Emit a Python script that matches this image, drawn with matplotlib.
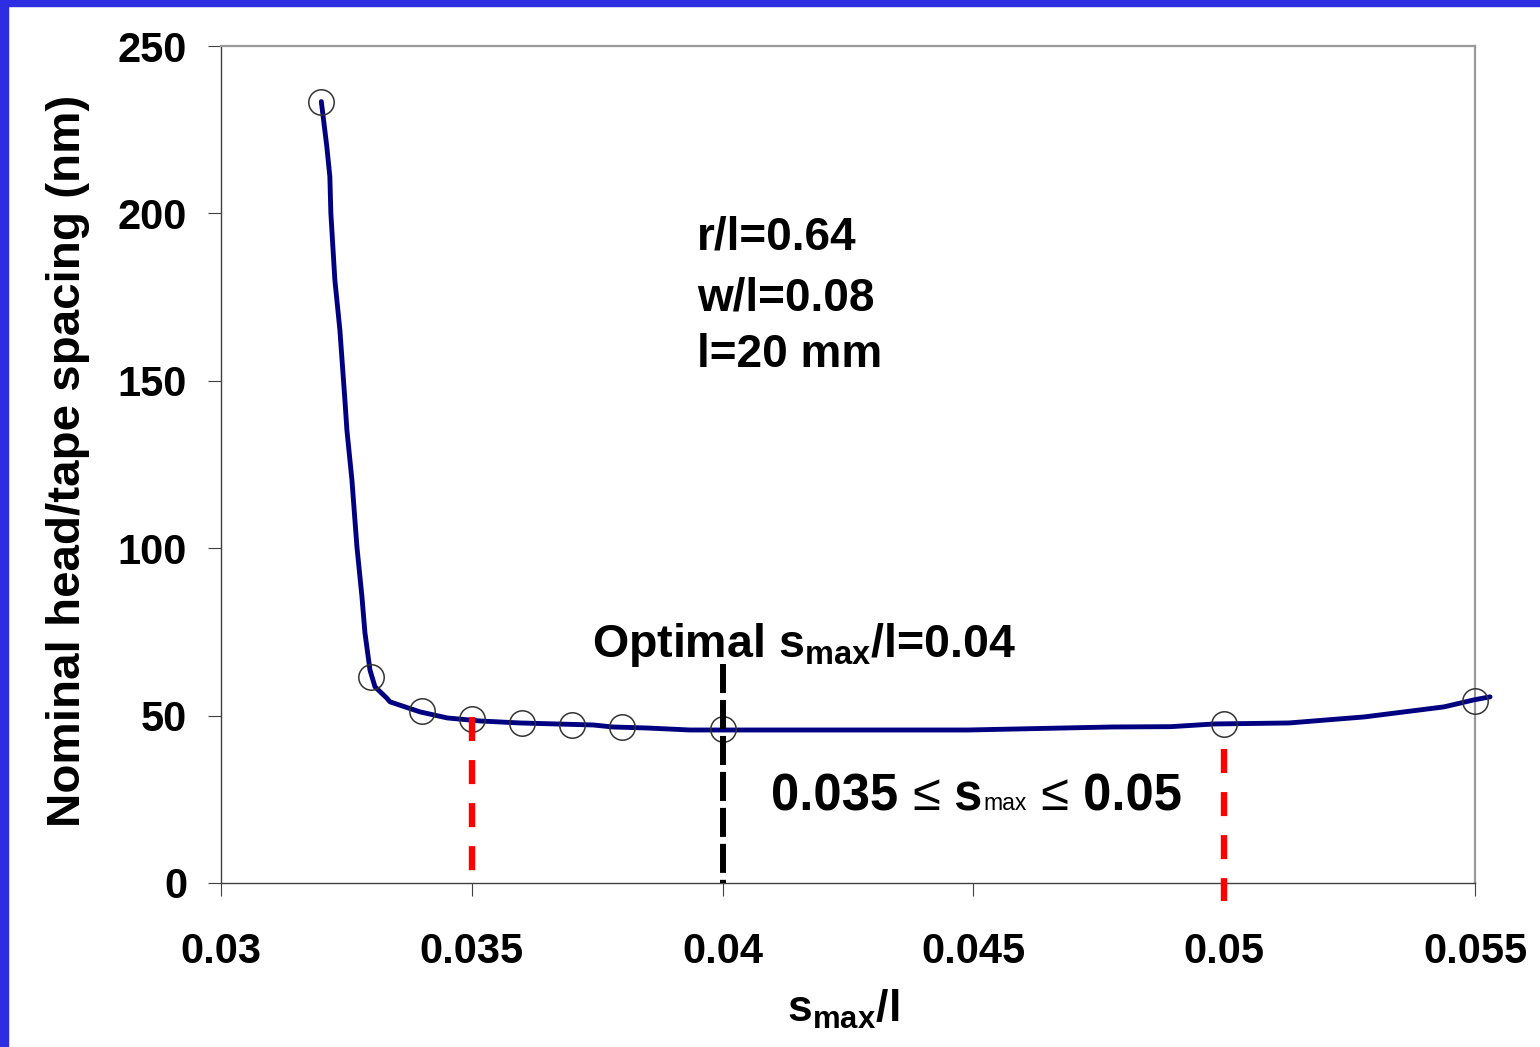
import matplotlib

matplotlib.use("Agg")
import matplotlib.pyplot as plt  # noqa: E402
from matplotlib.patches import Rectangle  # noqa: E402

plt.rcParams["font.family"] = ["Liberation Sans", "DejaVu Sans"]
plt.rcParams["font.weight"] = "bold"
plt.rcParams["axes.labelweight"] = "bold"
plt.rcParams["mathtext.fontset"] = "custom"
plt.rcParams["mathtext.rm"] = "Liberation Sans:bold"
plt.rcParams["mathtext.it"] = "Liberation Sans:bold"
plt.rcParams["mathtext.bf"] = "Liberation Sans:bold"
plt.rcParams["lines.scale_dashes"] = False

C_CURVE = "#000080"   # navy -- spacing curve
C_MARK = "#333333"    # open circles at the computed support positions
C_RANGE = "#ff0000"   # acceptable s_max range
C_OPT = "#000000"     # optimum

# computed points (open circles)
smax_pts = [0.032, 0.033, 0.034, 0.035, 0.036, 0.037, 0.038, 0.040, 0.050, 0.055]
spacing_pts = [233.4, 61.6, 51.4, 48.9, 47.9, 47.3, 46.7, 45.9, 47.4, 54.4]

# fitted spacing curve
smax_curve = [0.03200, 0.03211, 0.03217, 0.03219, 0.03227, 0.03237, 0.03247,
              0.03251, 0.03261, 0.03271, 0.03281, 0.03287, 0.03297, 0.03307,
              0.03330, 0.03337, 0.03397, 0.03451, 0.03516, 0.03596, 0.03742,
              0.03781, 0.03849, 0.03935, 0.04489, 0.04776, 0.04894, 0.04980,
              0.05129, 0.05279, 0.05438, 0.05498, 0.05530]
spacing_curve = [233.4, 219.9, 211.0, 200.1, 180.1, 165.2, 144.3,
                 135.3, 120.4, 100.4, 85.5, 74.7, 63.6, 58.6,
                 55.3, 54.1, 51.1, 49.3, 48.4, 47.8, 47.2,
                 46.6, 46.3, 45.7, 45.7, 46.6, 46.7, 47.5,
                 47.8, 49.6, 52.6, 54.7, 55.6]

smax_lo, smax_hi, smax_opt = 0.035, 0.05, 0.04
range_top = [49.6, 40.0]
range_bottom = [0.0, -5.4]
opt_top = 65.4

xticks = [0.03, 0.035, 0.04, 0.045, 0.05, 0.055]
xtick_labels = ["0.03", "0.035", "0.04", "0.045", "0.05", "0.055"]
yticks = [0, 50, 100, 150, 200, 250]

params = ["r/l=0.64", "w/l=0.08", "l=20 mm"]
params_y = [189.1, 171.1, 154.1]

fig = plt.figure(figsize=(15.4, 10.47), dpi=100)
fig.patch.set_facecolor("white")
# slide frame: blue bars along the top and left edges
fig.patches.append(Rectangle((0, 1 - 6 / 1047), 1, 6 / 1047,
                             transform=fig.transFigure, color="#2d2de2", zorder=0))
fig.patches.append(Rectangle((0, 0), 8 / 1540, 1,
                             transform=fig.transFigure, color="#2d2de2", zorder=0))

ax = fig.add_axes([221 / 1540, 1 - 883 / 1047, 1254 / 1540, 837 / 1047])

ax.plot(smax_curve, spacing_curve, color=C_CURVE, lw=3.5, zorder=3,
        clip_on=False, solid_capstyle="round", solid_joinstyle="round")
ax.plot(smax_pts, spacing_pts, ls="none", marker="o", ms=18.3, mew=1.1,
        mfc="none", mec=C_MARK, zorder=4, clip_on=False)

for x, top, bot in zip([smax_lo, smax_hi], range_top, range_bottom):
    ax.plot([x, x], [top, bot], color=C_RANGE, lw=4.6, dashes=(17.3, 13.7),
            zorder=5, clip_on=False)
ax.plot([smax_opt, smax_opt], [opt_top, 0], color=C_OPT, lw=4.3,
        dashes=(20.9, 5.0), zorder=5, clip_on=False)

ax.set_xlim(0.03, 0.055)
ax.set_ylim(0, 250)
ax.set_xticks(xticks)
ax.set_xticklabels(xtick_labels)
ax.set_yticks(yticks)

for side in ("left", "bottom"):
    ax.spines[side].set_color("#404040")
    ax.spines[side].set_linewidth(1.0)
for side in ("top", "right"):
    ax.spines[side].set_color("#999999")
    ax.spines[side].set_linewidth(1.6)

ax.tick_params(axis="both", direction="out", length=9.4, width=0.8,
               color="#404040", labelsize=30)
ax.tick_params(axis="x", pad=26)
ax.tick_params(axis="y", pad=15)

ax.set_ylabel("Nominal head/tape spacing (nm)", fontsize=34.2,
              fontweight="bold", va="baseline")
ax.yaxis.set_label_coords(-0.1124, 0.504)
ax.text(0.496, -0.166, r"$\mathrm{s_{max}}$/l", transform=ax.transAxes,
        fontsize=32, ha="center", va="baseline")

for label, y in zip(params, params_y):
    ax.text(0.03949, y, label, fontsize=33, va="baseline", ha="left")

ax.text(0.0374, 67.5, r"Optimal $\mathrm{s_{max}}$/l=0.04", fontsize=33.5,
        va="baseline", ha="left", zorder=6)

# range statement with a small, light subscript and light relation signs
t1 = ax.text(0.04096, 21.8, "0.035 ", fontsize=36.5, va="baseline",
             ha="left", zorder=6)
t2 = ax.annotate("\u2264", xy=(1, 0), xycoords=t1, fontsize=36.5,
                 fontweight="normal", va="bottom", ha="left")
t3 = ax.annotate(" s", xy=(1, 0), xycoords=t2, fontsize=36.5,
                 va="bottom", ha="left")
t4 = ax.annotate("max", xy=(1, 0), xycoords=t3, xytext=(1, 4.2),
                 textcoords="offset points", fontsize=16.5, fontweight="normal",
                 va="bottom", ha="left")
t5 = ax.annotate(" \u2264", xy=(1, 0), xycoords=t4, xytext=(0, -4.2),
                 textcoords="offset points", fontsize=36.5, fontweight="normal",
                 va="bottom", ha="left")
ax.annotate(" 0.05", xy=(1, 0), xycoords=t5, fontsize=36.5,
            va="bottom", ha="left")

fig.savefig("out.png", dpi=100, facecolor="white")
